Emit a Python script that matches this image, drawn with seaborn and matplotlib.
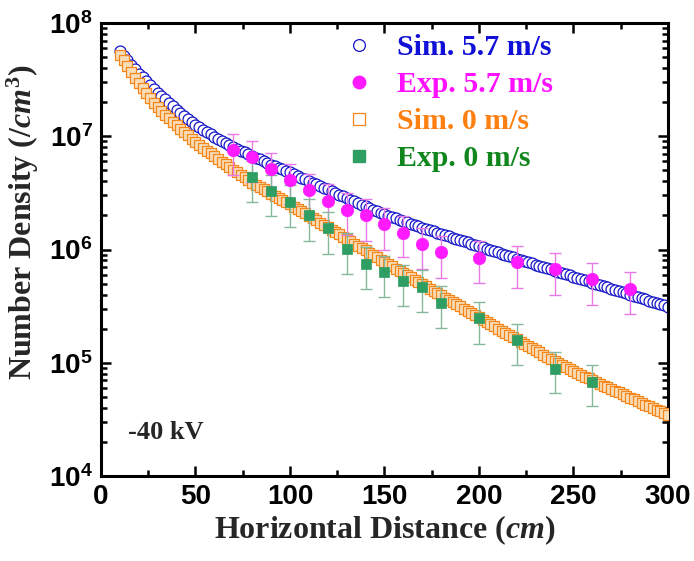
import numpy as np
import pandas as pd
import matplotlib
matplotlib.use("Agg")
import matplotlib.pyplot as plt
import seaborn as sns
from matplotlib.lines import Line2D
from matplotlib.ticker import LogLocator, MultipleLocator, FuncFormatter, NullFormatter
from matplotlib.font_manager import FontProperties

# ---------------- data ----------------
# simulated profiles, sampled every 2 cm from 10 to 300 cm (log10 of density per cm^3)
sim_x = np.arange(10, 301, 2)
sim_57_log10 = [
    7.750, 7.711, 7.671, 7.632, 7.592,  # 10-18
    7.553, 7.519, 7.486, 7.452, 7.419,  # 20-28
    7.385, 7.355, 7.325, 7.295, 7.265,  # 30-38
    7.235, 7.208, 7.181, 7.154, 7.127,  # 40-48
    7.100, 7.079, 7.058, 7.037, 7.016,  # 50-58
    6.995, 6.977, 6.959, 6.941, 6.923,  # 60-68
    6.905, 6.889, 6.873, 6.857, 6.841,  # 70-78
    6.825, 6.810, 6.795, 6.780, 6.765,  # 80-88
    6.750, 6.736, 6.722, 6.708, 6.694,  # 90-98
    6.680, 6.665, 6.650, 6.635, 6.620,  # 100-108
    6.605, 6.590, 6.575, 6.560, 6.545,  # 110-118
    6.530, 6.515, 6.500, 6.485, 6.470,  # 120-128
    6.455, 6.440, 6.425, 6.410, 6.395,  # 130-138
    6.380, 6.366, 6.352, 6.338, 6.324,  # 140-148
    6.310, 6.298, 6.286, 6.274, 6.262,  # 150-158
    6.250, 6.239, 6.227, 6.216, 6.204,  # 160-168
    6.193, 6.182, 6.171, 6.159, 6.148,  # 170-178
    6.137, 6.126, 6.115, 6.105, 6.094,  # 180-188
    6.083, 6.072, 6.062, 6.051, 6.041,  # 190-198
    6.030, 6.019, 6.008, 5.997, 5.986,  # 200-208
    5.975, 5.964, 5.953, 5.942, 5.931,  # 210-218
    5.920, 5.909, 5.898, 5.888, 5.877,  # 220-228
    5.866, 5.855, 5.845, 5.834, 5.824,  # 230-238
    5.813, 5.802, 5.792, 5.781, 5.771,  # 240-248
    5.760, 5.749, 5.739, 5.728, 5.718,  # 250-258
    5.707, 5.696, 5.686, 5.675, 5.665,  # 260-268
    5.654, 5.643, 5.633, 5.622, 5.612,  # 270-278
    5.601, 5.590, 5.580, 5.569, 5.559,  # 280-288
    5.548, 5.537, 5.527, 5.516, 5.506,  # 290-298
    5.495,                              # 300
]
sim_0_log10 = [
    7.720, 7.669, 7.619, 7.568, 7.518,  # 10-18
    7.467, 7.425, 7.382, 7.340, 7.297,  # 20-28
    7.255, 7.223, 7.191, 7.159, 7.127,  # 30-38
    7.095, 7.066, 7.037, 7.008, 6.979,  # 40-48
    6.950, 6.924, 6.899, 6.873, 6.848,  # 50-58
    6.822, 6.799, 6.775, 6.752, 6.728,  # 60-68
    6.705, 6.682, 6.659, 6.636, 6.613,  # 70-78
    6.590, 6.571, 6.552, 6.532, 6.513,  # 80-88
    6.494, 6.475, 6.456, 6.437, 6.417,  # 90-98
    6.398, 6.378, 6.358, 6.338, 6.318,  # 100-108
    6.298, 6.278, 6.257, 6.237, 6.216,  # 110-118
    6.196, 6.176, 6.155, 6.135, 6.114,  # 120-128
    6.094, 6.074, 6.053, 6.033, 6.012,  # 130-138
    5.992, 5.972, 5.951, 5.931, 5.910,  # 140-148
    5.890, 5.870, 5.851, 5.831, 5.812,  # 150-158
    5.792, 5.772, 5.753, 5.733, 5.714,  # 160-168
    5.694, 5.674, 5.655, 5.635, 5.616,  # 170-178
    5.596, 5.576, 5.557, 5.537, 5.518,  # 180-188
    5.498, 5.478, 5.459, 5.439, 5.420,  # 190-198
    5.400, 5.380, 5.361, 5.341, 5.322,  # 200-208
    5.302, 5.283, 5.264, 5.244, 5.225,  # 210-218
    5.206, 5.187, 5.168, 5.148, 5.129,  # 220-228
    5.110, 5.091, 5.072, 5.054, 5.035,  # 230-238
    5.016, 4.998, 4.980, 4.961, 4.943,  # 240-248
    4.925, 4.909, 4.893, 4.877, 4.861,  # 250-258
    4.845, 4.830, 4.814, 4.799, 4.783,  # 260-268
    4.768, 4.753, 4.738, 4.722, 4.707,  # 270-278
    4.692, 4.677, 4.662, 4.646, 4.631,  # 280-288
    4.616, 4.601, 4.586, 4.570, 4.555,  # 290-298
    4.540,                              # 300
]

# measured densities with error bars
exp_57_x = [70, 80, 90, 100, 110, 120, 130, 140, 150, 160, 170, 180, 200, 220, 240, 260, 280]
exp_57_val = [7.57e6, 6.52e6, 5.11e6, 4.11e6, 3.35e6, 2.70e6, 2.23e6, 2.00e6, 1.67e6,
              1.41e6, 1.11e6, 9.44e5, 8.47e5, 7.71e5, 6.68e5, 5.46e5, 4.48e5]
exp_57_err = [3.0e6, 2.6e6, 2.0e6, 1.6e6, 1.3e6, 1.1e6, 9.0e5, 8.0e5, 6.7e5,
              5.6e5, 4.4e5, 3.8e5, 3.4e5, 3.1e5, 2.7e5, 2.2e5, 1.8e5]

exp_0_x = [80, 90, 100, 110, 120, 130, 140, 150, 160, 170, 180, 200, 220, 240, 260]
exp_0_val = [4.34e6, 3.29e6, 2.64e6, 2.00e6, 1.54e6, 1.01e6, 7.45e5, 6.32e5, 5.27e5,
             4.70e5, 3.39e5, 2.47e5, 1.58e5, 8.87e4, 6.81e4]
exp_0_err = [1.7e6, 1.3e6, 1.05e6, 8.0e5, 6.2e5, 4.0e5, 3.0e5, 2.5e5, 2.1e5,
             1.9e5, 1.35e5, 1.0e5, 6.3e4, 3.5e4, 2.7e4]

legend_labels = ["Sim. 5.7 m/s", "Exp. 5.7 m/s", "Sim. 0 m/s", "Exp. 0 m/s"]

# ---------------- style ----------------
sns.set_theme(style="ticks")
plt.rcParams.update({
    "font.family": ["Liberation Serif", "DejaVu Serif"],
    "mathtext.fontset": "custom",
    "mathtext.rm": "Liberation Serif:bold",
    "mathtext.bf": "Liberation Serif:bold",
    "mathtext.it": "Liberation Serif:italic:bold",
    "mathtext.sf": "Liberation Sans:bold",
    "axes.linewidth": 2.0,
})

C_SIM57 = "#1414C8"
C_EXP57 = "#FF1AFF"
C_SIM0 = "#F5861A"
C_SIM0_FACE = "#F8DDB8"
C_EXP0 = "#2E9E63"

sim_df = pd.DataFrame({
    "x": np.concatenate([sim_x, sim_x]),
    "density": np.concatenate([10 ** np.array(sim_57_log10), 10 ** np.array(sim_0_log10)]),
    "case": ["5.7"] * len(sim_x) + ["0"] * len(sim_x),
})
exp57_df = pd.DataFrame({"x": exp_57_x, "density": exp_57_val, "err": exp_57_err})
exp0_df = pd.DataFrame({"x": exp_0_x, "density": exp_0_val, "err": exp_0_err})

fig = plt.figure(figsize=(6.94, 5.61), dpi=100)
ax = fig.add_axes([0.1455, 0.1515, 0.817, 0.8075])

# simulated profiles: open circles and open squares
sns.scatterplot(data=sim_df[sim_df["case"] == "5.7"], x="x", y="density", ax=ax,
                marker="o", s=62, facecolor="white", edgecolor=C_SIM57,
                linewidth=0.9, zorder=2, legend=False)
sns.scatterplot(data=sim_df[sim_df["case"] == "0"], x="x", y="density", ax=ax,
                marker="s", s=60, facecolor=C_SIM0_FACE, edgecolor=C_SIM0,
                linewidth=0.9, zorder=3, legend=False)

# measurements with error bars
ax.errorbar(exp57_df["x"], exp57_df["density"], yerr=exp57_df["err"], fmt="none",
            ecolor="#E87AE8", elinewidth=1.0, capsize=4.5, capthick=1.0, zorder=4)
sns.scatterplot(data=exp57_df, x="x", y="density", ax=ax, marker="o", s=80,
                color=C_EXP57, edgecolor=C_EXP57, linewidth=0.5, zorder=5, legend=False)
ax.errorbar(exp0_df["x"], exp0_df["density"], yerr=exp0_df["err"], fmt="none",
            ecolor="#86B99C", elinewidth=1.0, capsize=4.5, capthick=1.0, zorder=4)
sns.scatterplot(data=exp0_df, x="x", y="density", ax=ax, marker="s", s=60,
                color=C_EXP0, edgecolor=C_EXP0, linewidth=0.5, zorder=5, legend=False)

# axes
ax.set_yscale("log")
ax.set_xlim(0, 300)
ax.set_ylim(1e4, 1e8)
ax.xaxis.set_major_locator(MultipleLocator(50))
ax.xaxis.set_minor_locator(MultipleLocator(25))
ax.yaxis.set_major_locator(LogLocator(base=10, numticks=10))
ax.yaxis.set_minor_locator(LogLocator(base=10, subs=np.arange(2, 10), numticks=20))
ax.yaxis.set_minor_formatter(NullFormatter())
ax.yaxis.set_major_formatter(FuncFormatter(
    lambda v, p: r"$\mathsf{10^{%d}}$" % int(round(np.log10(v)))))
ax.tick_params(which="both", direction="in", top=True, right=True, width=1.8, colors="black")
ax.tick_params(which="major", length=7, labelsize=20, pad=6)
ax.tick_params(which="minor", length=4)
for lab in ax.get_xticklabels():
    lab.set_fontfamily("Liberation Sans")
    lab.set_fontweight("bold")
for s in ax.spines.values():
    s.set_color("black")
    s.set_linewidth(2.2)

ax.set_xlabel(r"Horizontal Distance ($\mathit{cm}$)", fontsize=23, fontweight="bold",
              family="Liberation Serif", labelpad=2)
ax.set_ylabel(r"Number Density ($\mathit{/cm^3}$)", fontsize=23, fontweight="bold",
              family="Liberation Serif")
ax.yaxis.set_label_coords(-0.106, 0.56)

ax.text(0.048, 0.095, "-40 kV", transform=ax.transAxes, fontsize=19,
        fontweight="bold", family="Liberation Serif", va="center", ha="left")

handles = [
    Line2D([], [], linestyle="none", marker="o", markersize=8.5, markerfacecolor="white",
           markeredgecolor=C_SIM57, markeredgewidth=0.9),
    Line2D([], [], linestyle="none", marker="o", markersize=9, markerfacecolor=C_EXP57,
           markeredgecolor=C_EXP57),
    Line2D([], [], linestyle="none", marker="s", markersize=8, markerfacecolor="white",
           markeredgecolor=C_SIM0, markeredgewidth=0.9),
    Line2D([], [], linestyle="none", marker="s", markersize=8, markerfacecolor=C_EXP0,
           markeredgecolor=C_EXP0),
]
ax.legend(handles, legend_labels, loc="upper left", bbox_to_anchor=(0.407, 1.011),
          frameon=False, handlelength=0.7, handletextpad=0.93, labelspacing=0.335,
          borderaxespad=0.15,
          prop=FontProperties(family="Liberation Serif", weight="bold", size=21.5),
          labelcolor=["#1010D8", "#FF10FF", "#FF8012", "#10861C"])

fig.savefig("out.png", dpi=100)
